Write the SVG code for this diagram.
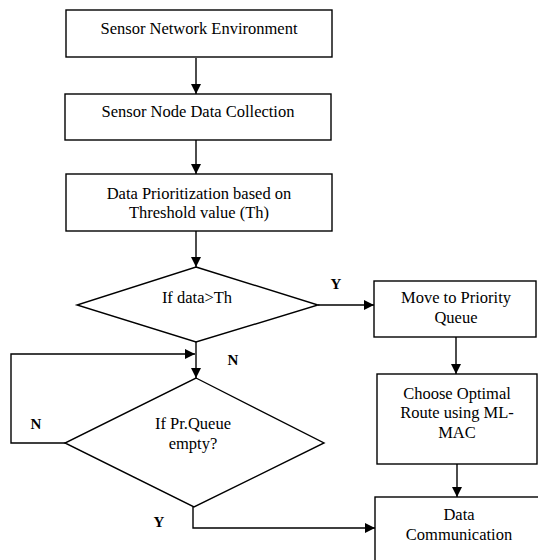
<svg xmlns="http://www.w3.org/2000/svg" width="538" height="560" viewBox="0 0 538 560">
<style>
.box{fill:#fff;stroke:#000;stroke-width:1.4}
.t{font-family:"Liberation Serif","Times New Roman","DejaVu Serif",serif;font-size:16.5px;fill:#000;text-anchor:middle}
.lbl{font-family:"Liberation Serif","Times New Roman","DejaVu Serif",serif;font-size:15px;font-weight:bold;fill:#000;text-anchor:middle}
.c{fill:none;stroke:#000;stroke-width:1.4}
</style>
<defs>
<marker id="ah" viewBox="0 0 10 10" refX="10" refY="5" markerWidth="10" markerHeight="10" markerUnits="userSpaceOnUse" orient="auto">
<path d="M0,0 L10,5 L0,10 z" fill="#000"/>
</marker>
</defs>
<rect width="538" height="560" fill="#fff"/>
<g id="connectors">
<path class="c" d="M196,58 V94" marker-end="url(#ah)"/>
<path class="c" d="M196,140 V174" marker-end="url(#ah)"/>
<path class="c" d="M196,231 V267" marker-end="url(#ah)"/>
<path class="c" d="M318,305 H374" marker-end="url(#ah)"/>
<path class="c" d="M456,337 V374" marker-end="url(#ah)"/>
<path class="c" d="M457,464 V497" marker-end="url(#ah)"/>
<path class="c" d="M196,342 V378" marker-end="url(#ah)"/>
<path class="c" d="M66,443 H11 V354 H195" marker-end="url(#ah)"/>
<path class="c" d="M193,507 V528 H375" marker-end="url(#ah)"/>
<text class="lbl" x="336" y="289">Y</text>
<text class="lbl" x="233" y="365">N</text>
<text class="lbl" x="36" y="429">N</text>
<text class="lbl" x="159" y="527">Y</text>
</g>
<g id="n1">
<rect class="box" x="66" y="10" width="266" height="47"/>
<text class="t" x="199" y="34">Sensor Network Environment</text>
</g>
<g id="n2">
<rect class="box" x="65" y="94" width="266" height="46"/>
<text class="t" x="198" y="117">Sensor Node Data Collection</text>
</g>
<g id="n3">
<rect class="box" x="66" y="174" width="266" height="57"/>
<text class="t" x="199" y="199">Data Prioritization based on</text>
<text class="t" x="199" y="218">Threshold value (Th)</text>
</g>
<g id="d1">
<polygon class="box" points="196,267 318,305 196,342 77,305"/>
<text class="t" x="197" y="303">If data&gt;Th</text>
</g>
<g id="n4">
<rect class="box" x="374" y="281" width="162" height="56"/>
<text class="t" x="456" y="303">Move to Priority</text>
<text class="t" x="456" y="323">Queue</text>
</g>
<g id="n5">
<rect class="box" x="377" y="374" width="160" height="90"/>
<text class="t" x="457" y="399">Choose Optimal</text>
<text class="t" x="457" y="418">Route using ML-</text>
<text class="t" x="457" y="438">MAC</text>
</g>
<g id="d2">
<polygon class="box" points="196,378 324,443 194,507 65,443"/>
<text class="t" x="193" y="429">If Pr.Queue</text>
<text class="t" x="193" y="449">empty?</text>
</g>
<g id="n6">
<rect class="box" x="375" y="497" width="170" height="70"/>
<text class="t" x="459" y="520">Data</text>
<text class="t" x="459" y="540">Communication</text>
</g>
</svg>
